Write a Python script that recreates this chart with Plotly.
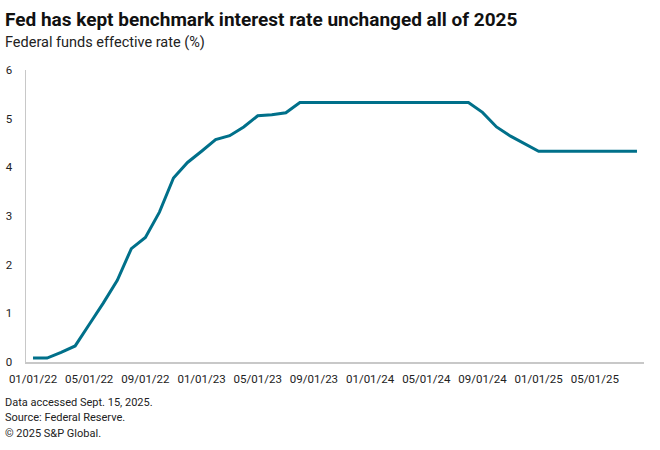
import plotly.graph_objects as go

months = [
    "01/01/22", "02/01/22", "03/01/22", "04/01/22", "05/01/22", "06/01/22",
    "07/01/22", "08/01/22", "09/01/22", "10/01/22", "11/01/22", "12/01/22",
    "01/01/23", "02/01/23", "03/01/23", "04/01/23", "05/01/23", "06/01/23",
    "07/01/23", "08/01/23", "09/01/23", "10/01/23", "11/01/23", "12/01/23",
    "01/01/24", "02/01/24", "03/01/24", "04/01/24", "05/01/24", "06/01/24",
    "07/01/24", "08/01/24", "09/01/24", "10/01/24", "11/01/24", "12/01/24",
    "01/01/25", "02/01/25", "03/01/25", "04/01/25", "05/01/25", "06/01/25",
    "07/01/25", "08/01/25",
]
rate = [
    0.08, 0.08, 0.20, 0.33, 0.77, 1.21, 1.68, 2.33, 2.56, 3.08, 3.78, 4.10,
    4.33, 4.57, 4.65, 4.83, 5.06, 5.08, 5.12, 5.33, 5.33, 5.33, 5.33, 5.33,
    5.33, 5.33, 5.33, 5.33, 5.33, 5.33, 5.33, 5.33, 5.13, 4.83, 4.64, 4.48,
    4.33, 4.33, 4.33, 4.33, 4.33, 4.33, 4.33, 4.33,
]
tick_labels = months[::4]
y_ticks = [0, 1, 2, 3, 4, 5, 6]

title = "Fed has kept benchmark interest rate unchanged all of 2025"
subtitle = "Federal funds effective rate (%)"
footer = ["Data accessed Sept. 15, 2025.", "Source: Federal Reserve.", "© 2025 S&P Global."]

FONT = "Roboto"
fig = go.Figure()
fig.add_trace(go.Scatter(
    x=months, y=rate, mode="lines",
    line=dict(color="#00708a", width=3),
    hoverinfo="skip",
))

L, R, T, B = 26, 16, 70, 88
W, H = 660, 450
pw, ph = W - L - R, H - T - B

def px(x):
    return (x - L) / pw

def py(y):
    return (H - B - y) / ph

annotations = [
    dict(text="<b>" + title + "</b>", x=px(3), y=py(20), font=dict(size=19, color="#111111", family=FONT)),
    dict(text=subtitle, x=px(3), y=py(43), font=dict(size=14.5, color="#222222", family=FONT)),
]
for i, line in enumerate(footer):
    annotations.append(dict(text=line, x=px(3), y=py(402 + i * 15.5), font=dict(size=11, color="#222222", family=FONT)))
for a in annotations:
    a.update(xref="paper", yref="paper", xanchor="left", yanchor="middle", showarrow=False)

fig.update_layout(
    width=W, height=H,
    margin=dict(l=L, r=R, t=T, b=B, pad=0, autoexpand=False),
    paper_bgcolor="white", plot_bgcolor="white",
    showlegend=False,
    font=dict(family=FONT, size=11.5, color="#222222"),
    annotations=annotations,
    xaxis=dict(
        type="category", range=[-0.5, len(months) - 0.5],
        tickmode="array", tickvals=tick_labels, ticktext=tick_labels,
        showgrid=False, zeroline=False, automargin=False,
        showline=True, linecolor="#c8c8c8", linewidth=1.5,
        ticks="", ticklabelstandoff=6,
        tickfont=dict(size=11.5, color="#222222"),
    ),
    yaxis=dict(
        range=[0, 6], tickvals=y_ticks,
        showgrid=False, zeroline=False, automargin=False,
        showline=True, linecolor="#c8c8c8", linewidth=1.5,
        ticks="", ticklabelstandoff=10,
        tickfont=dict(size=11.5, color="#222222"),
    ),
)

fig.write_html(
    "out.html",
    config={"displayModeBar": False, "staticPlot": True},
    post_script="document.body.style.margin='0';document.body.style.overflow='hidden';",
)
